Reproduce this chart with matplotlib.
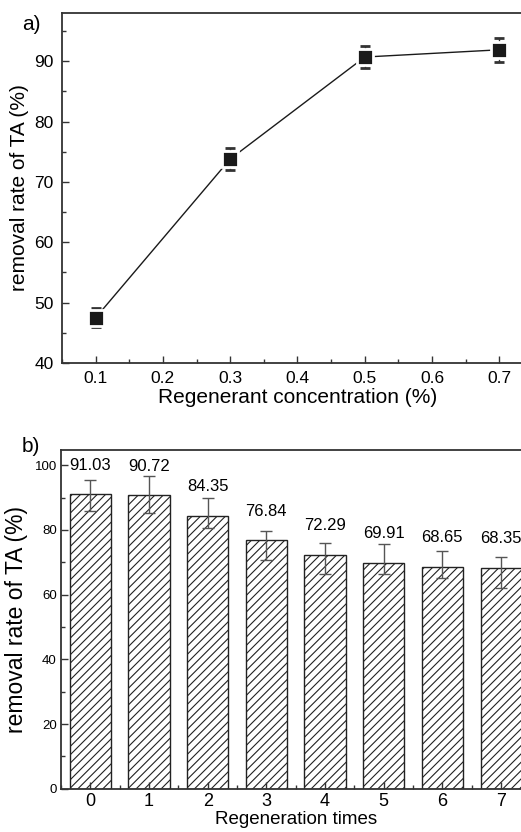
import matplotlib
matplotlib.use("Agg")
import matplotlib.pyplot as plt
from matplotlib.ticker import MultipleLocator

plt.rcParams['font.family'] = ['Liberation Sans', 'DejaVu Sans']
plt.rcParams['hatch.color'] = '#333333'
plt.rcParams['hatch.linewidth'] = 0.8

# a) removal rate vs regenerant concentration
conc = [0.1, 0.3, 0.5, 0.7]
rate_a = [47.5, 73.8, 90.7, 91.9]
err_a = [1.6, 1.9, 1.9, 2.0]

# b) removal rate vs regeneration times
times = [0, 1, 2, 3, 4, 5, 6, 7]
rate_b = [91.03, 90.72, 84.35, 76.84, 72.29, 69.91, 68.65, 68.35]
err_lo = [5.1, 5.4, 3.8, 6.1, 5.9, 3.6, 3.6, 6.2]
err_hi = [4.4, 6.1, 5.4, 2.9, 3.6, 5.7, 5.0, 3.2]
labels_b = ['%.2f' % v for v in rate_b]

fig = plt.figure(figsize=(5.21, 8.32), dpi=100)

ax1 = fig.add_axes([0.119, 0.5637, 0.904, 0.4207])
ax1.errorbar(conc, rate_a, yerr=err_a, fmt='s-', color='#1a1a1a', lw=1.0,
             ms=11.5, mfc='#1a1a1a', mec='white', mew=2.0,
             ecolor='#333333', elinewidth=1.0, capsize=3.5, capthick=1.0)
ax1.set_xlim(0.05, 0.75)
ax1.set_ylim(40, 98)
ax1.xaxis.set_major_locator(MultipleLocator(0.1))
ax1.xaxis.set_minor_locator(MultipleLocator(0.05))
ax1.yaxis.set_major_locator(MultipleLocator(10))
ax1.yaxis.set_minor_locator(MultipleLocator(5))
ax1.set_xlabel('Regenerant concentration (%)', fontsize=15, labelpad=1)
ax1.set_ylabel('removal rate of TA (%)', fontsize=15, labelpad=4)
fig.text(0.042, 0.971, 'a)', fontsize=15, va='center', ha='left')

ax2 = fig.add_axes([0.117, 0.052, 0.901, 0.407])
ax2.bar(times, rate_b, width=0.7, color='white', edgecolor='#222222',
        linewidth=1.0, hatch='////')
ax2.errorbar(times, rate_b, yerr=[err_lo, err_hi], fmt='none',
             ecolor='#555555', elinewidth=1.0, capsize=4, capthick=1.0)
for x, v, lab in zip(times, rate_b, labels_b):
    ax2.text(x, v + 9, lab, ha='center', va='center', fontsize=12)
ax2.set_xlim(-0.5, 7.5)
ax2.set_ylim(0, 104.7)
ax2.xaxis.set_major_locator(MultipleLocator(1))
ax2.xaxis.set_minor_locator(MultipleLocator(0.5))
ax2.yaxis.set_major_locator(MultipleLocator(20))
ax2.yaxis.set_minor_locator(MultipleLocator(10))
ax2.set_xlabel('Regeneration times', fontsize=13.5, labelpad=1)
ax2.set_ylabel('removal rate of TA (%)', fontsize=16.5, labelpad=5)
fig.text(0.042, 0.4633, 'b)', fontsize=15, va='center', ha='left')

for ax in (ax1, ax2):
    for s in ax.spines.values():
        s.set_linewidth(1.3)
        s.set_color('#333333')
    ax.tick_params(which='both', direction='in', top=False, right=False,
                   color='#333333')
    ax.tick_params(which='major', length=5, width=1.0)
    ax.tick_params(which='minor', length=3, width=1.0)
ax1.tick_params(axis='both', which='major', labelsize=12.5, pad=6)
ax2.tick_params(axis='y', which='major', labelsize=9.5, pad=3)
ax2.tick_params(axis='x', which='major', labelsize=13, pad=3)

fig.savefig('out.png', dpi=100)
